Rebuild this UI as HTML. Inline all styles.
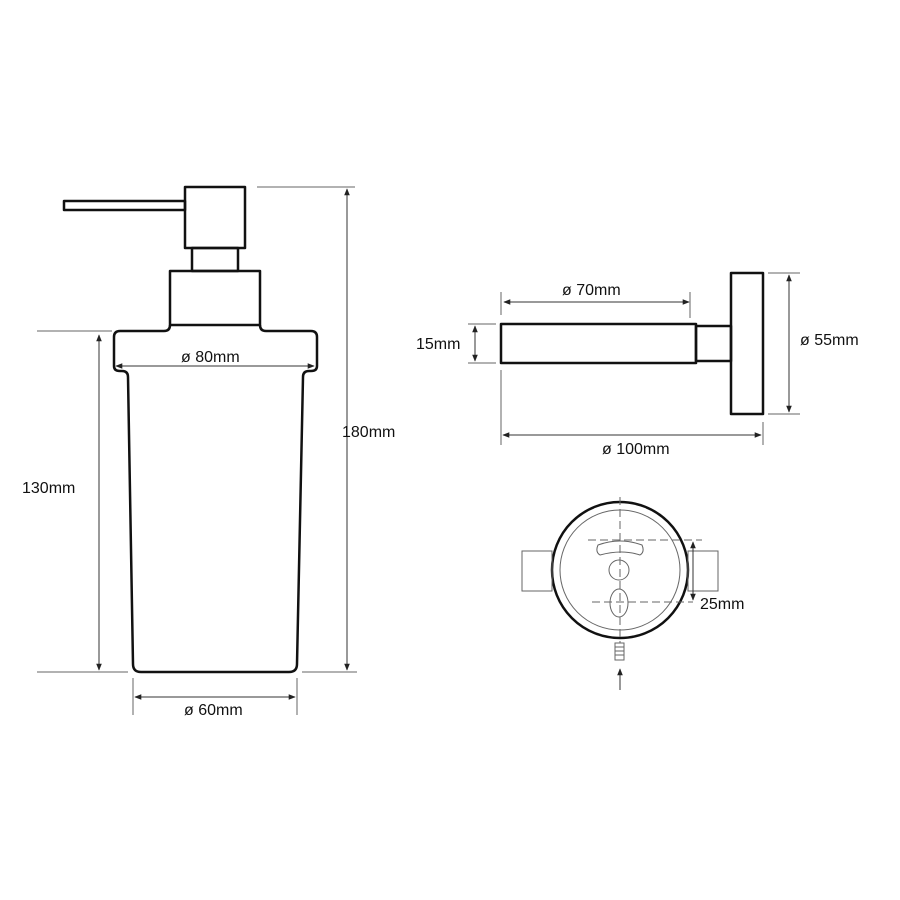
<!DOCTYPE html>
<html><head><meta charset="utf-8"><style>body{margin:0;background:#fff}svg{display:block}text{font-family:"Liberation Sans",sans-serif;font-size:16px;fill:#111}</style></head>
<body>
<svg width="900" height="900" viewBox="0 0 900 900">
<defs>
<marker id="a" viewBox="0 0 10 10" refX="9" refY="5" markerWidth="7" markerHeight="7" orient="auto-start-reverse"><path d="M0,1 L10,5 L0,9 z" fill="#222"/></marker>
</defs>
<g fill="none" stroke="#111" stroke-width="2.5" stroke-linejoin="round">
<rect x="64" y="201" width="121" height="9"/>
<rect x="185" y="187" width="60" height="61"/>
<rect x="192" y="248" width="46" height="23"/>
<rect x="170" y="271" width="90" height="54"/>
<path d="M170,325 q0,6 -6,6 H120 q-6,0 -6,6 V366 q0,5 6,5 h2 q6,0 6,6 L133,664 q0,8 8,8 H289 q8,0 8,-8 L303,377 q0,-6 6,-6 h2 q6,0 6,-5 V337 q0,-6 -6,-6 H266 q-6,0 -6,-6"/>
<rect x="501" y="324" width="195" height="39"/>
<rect x="696" y="326" width="35" height="35"/>
<rect x="731" y="273" width="32" height="141"/>
<circle cx="620" cy="570" r="68"/>
</g>
<g fill="none" stroke="#666" stroke-width="1">
<line x1="257" y1="187" x2="355" y2="187"/><line x1="37" y1="331" x2="112" y2="331"/>
<line x1="37" y1="672" x2="128" y2="672"/><line x1="302" y1="672" x2="357" y2="672"/>
<line x1="133" y1="678" x2="133" y2="715"/><line x1="297" y1="678" x2="297" y2="715"/>
<line x1="501" y1="292" x2="501" y2="315"/><line x1="690" y1="292" x2="690" y2="318"/>
<line x1="468" y1="324" x2="496" y2="324"/><line x1="468" y1="363" x2="496" y2="363"/>
<line x1="501" y1="370" x2="501" y2="445"/><line x1="763" y1="422" x2="763" y2="445"/>
<line x1="768" y1="273" x2="800" y2="273"/><line x1="768" y1="414" x2="800" y2="414"/>
<circle cx="620" cy="570" r="60"/>
<rect x="522" y="551" width="30" height="40"/><rect x="688" y="551" width="30" height="40"/>
<path d="M598,545 q22,-8 44,0 q3,7 -2,10 q-18,-6 -40,0 q-5,-3 -2,-10z"/>
<circle cx="619" cy="570" r="10"/>
<ellipse cx="619" cy="603" rx="9" ry="14"/>
<rect x="615" y="643" width="9" height="17"/>
<path d="M615,647h9M615,651h9M615,655h9"/>
</g>
<g stroke="#666" stroke-width="1" stroke-dasharray="8,4">
<line x1="620" y1="497" x2="620" y2="643"/>
<line x1="588" y1="540" x2="702" y2="540"/>
<line x1="592" y1="602" x2="693" y2="602"/>
</g>
<g stroke="#333" stroke-width="1" marker-start="url(#a)" marker-end="url(#a)">
<line x1="347" y1="189" x2="347" y2="670"/>
<line x1="99" y1="335" x2="99" y2="670"/>
<line x1="135" y1="697" x2="295" y2="697"/>
<line x1="116" y1="366" x2="314" y2="366"/>
<line x1="504" y1="302" x2="689" y2="302"/>
<line x1="475" y1="326" x2="475" y2="361"/>
<line x1="503" y1="435" x2="761" y2="435"/>
<line x1="789" y1="275" x2="789" y2="412"/>
<line x1="693" y1="542" x2="693" y2="600"/>
</g>
<line x1="620" y1="690" x2="620" y2="669" stroke="#333" stroke-width="1" marker-end="url(#a)"/>
<text x="181" y="362">ø 80mm</text>
<text x="342" y="437">180mm</text>
<text x="22" y="493">130mm</text>
<text x="184" y="715">ø 60mm</text>
<text x="562" y="295">ø 70mm</text>
<text x="416" y="349">15mm</text>
<text x="800" y="345">ø 55mm</text>
<text x="602" y="454">ø 100mm</text>
<text x="700" y="609">25mm</text>
</svg>
</body></html>
